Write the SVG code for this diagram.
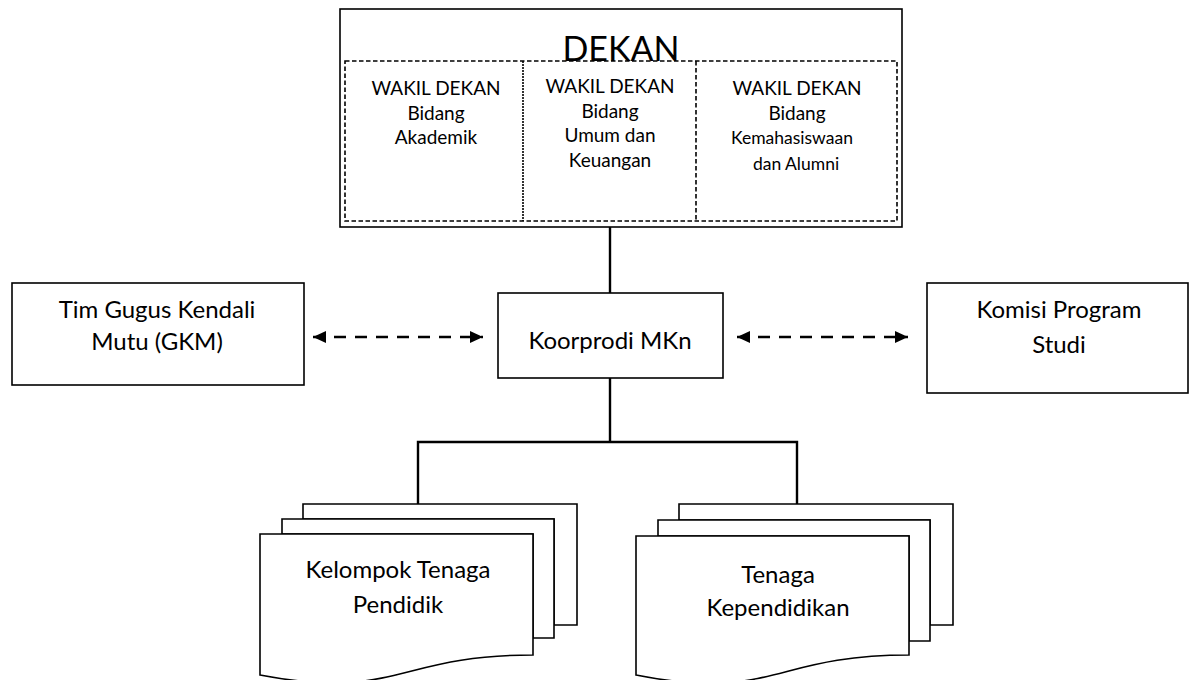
<svg xmlns="http://www.w3.org/2000/svg" width="1191" height="680" viewBox="0 0 1191 680">
<style>
text{font-family:Lato,"Liberation Sans",sans-serif;fill:#000;text-anchor:middle}
.lbl{font-size:24px}
.wk{font-size:19px}
.box{fill:#fff;stroke:#000;stroke-width:1.6}
.dash{fill:none;stroke:#000;stroke-width:1.6;stroke-dasharray:4.5,2.5}
.conn{fill:none;stroke:#000;stroke-width:2.4}
.arr{fill:none;stroke:#000;stroke-width:2.5;stroke-dasharray:12,9}
</style>
<defs>
<marker id="ah" viewBox="0 0 13 12" refX="13" refY="6" markerWidth="13" markerHeight="12" markerUnits="userSpaceOnUse" orient="auto-start-reverse">
<path d="M0,0 L13,6 L0,12 Z" fill="#000"/>
</marker>
</defs>
<rect width="1191" height="680" fill="#fff"/>
<g id="connectors">
<line class="conn" x1="610" y1="227" x2="610" y2="293"/>
<polyline class="conn" points="610,378 610,442"/>
<polyline class="conn" points="418,504 418,442 797,442 797,504"/>
<line class="arr" x1="313" y1="337" x2="483" y2="337" marker-start="url(#ah)" marker-end="url(#ah)"/>
<line class="arr" x1="737" y1="337" x2="908" y2="337" marker-start="url(#ah)" marker-end="url(#ah)"/>
</g>
<g id="dekan">
<rect class="box" x="340" y="9" width="562" height="218"/>
<text x="621" y="61" style="font-size:34px">DEKAN</text>
<rect class="dash" x="345" y="61" width="552" height="160"/>
<line x1="523" y1="61" x2="523" y2="221" stroke="#000" stroke-width="1.6" stroke-dasharray="2,1"/>
<line x1="696" y1="61" x2="696" y2="221" stroke="#000" stroke-width="1.6" stroke-dasharray="4.5,2.5"/>
</g>
<g id="wd-akademik">
<text class="wk" x="436" y="95">WAKIL DEKAN</text>
<text class="wk" x="436" y="120">Bidang</text>
<text class="wk" x="436" y="144">Akademik</text>
</g>
<g id="wd-umum">
<text class="wk" x="610" y="93">WAKIL DEKAN</text>
<text class="wk" x="610" y="118">Bidang</text>
<text class="wk" x="610" y="142">Umum dan</text>
<text class="wk" x="610" y="167">Keuangan</text>
</g>
<g id="wd-kemahasiswaan">
<text class="wk" x="797" y="95">WAKIL DEKAN</text>
<text class="wk" x="797" y="120">Bidang</text>
<text x="792" y="144" style="font-size:17.5px">Kemahasiswaan</text>
<text x="796" y="170" style="font-size:17.5px">dan Alumni</text>
</g>
<g id="gkm">
<rect class="box" x="12" y="283" width="292" height="102"/>
<text class="lbl" x="157" y="318">Tim Gugus Kendali</text>
<text class="lbl" x="157" y="350">Mutu (GKM)</text>
</g>
<g id="koorprodi">
<rect class="box" x="498" y="293" width="225" height="85"/>
<text class="lbl" x="610" y="349">Koorprodi MKn</text>
</g>
<g id="komisi">
<rect class="box" x="927" y="283" width="261" height="110"/>
<text class="lbl" x="1059" y="318">Komisi Program</text>
<text class="lbl" x="1059" y="353">Studi</text>
</g>
<g id="tenaga-pendidik">
<path class="box" d="M303,504 H577 V625 H554 V519 H303 Z"/>
<path class="box" d="M282,519 H554 V638 H533 V534 H282 Z"/>
<path class="box" d="M260,534 H533 V655 C396.5,655 396.5,701 260,675 Z"/>
<text class="lbl" x="398" y="578">Kelompok Tenaga</text>
<text class="lbl" x="398" y="613">Pendidik</text>
</g>
<g id="tenaga-kependidikan">
<path class="box" d="M679,504 H953 V625 H930 V520 H679 Z"/>
<path class="box" d="M658,520 H930 V641 H909 V536 H658 Z"/>
<path class="box" d="M636,536 H909 V655 C772.5,655 772.5,702 636,675 Z"/>
<text class="lbl" x="778" y="583">Tenaga</text>
<text class="lbl" x="778" y="616">Kependidikan</text>
</g>
</svg>
